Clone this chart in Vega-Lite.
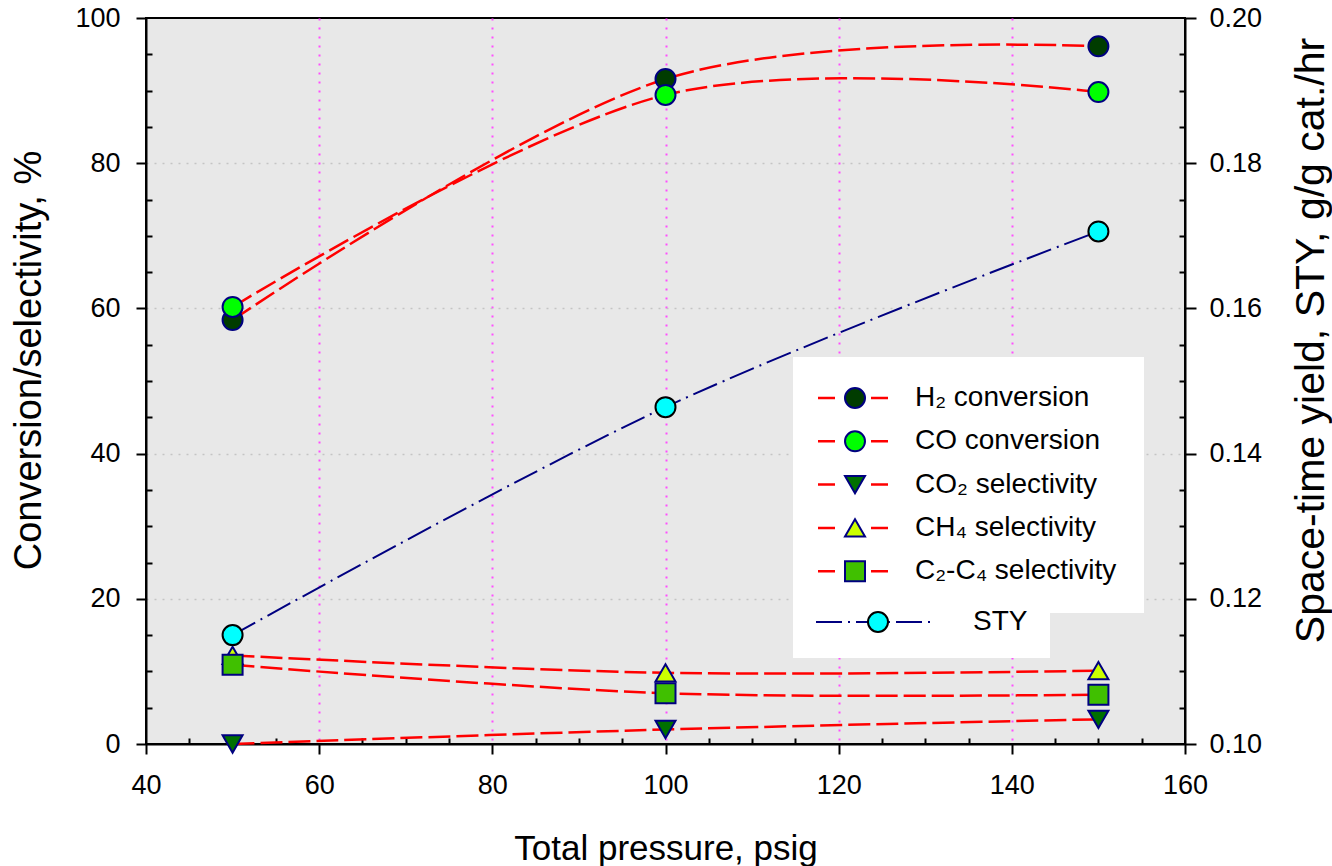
{
  "$schema": "https://vega.github.io/schema/vega-lite/v6.json",
  "width": 1039,
  "height": 726,
  "autosize": {"type": "none"},
  "padding": {"left": 146, "top": 18, "right": 147, "bottom": 122},
  "background": "white",
  "config": {
    "view": {"fill": "#e8e8e8", "stroke": "black", "strokeWidth": 2},
    "font": "Liberation Sans",
    "axis": {"labelFont": "Liberation Sans", "titleFont": "Liberation Sans", "labelColor": "black", "titleColor": "black", "domainColor": "black", "tickColor": "black", "domainWidth": 2, "tickWidth": 2, "titleFontWeight": "normal", "labelFlush": false, "labelOverlap": false},
    "legend": {"labelFont": "Liberation Sans", "labelColor": "black", "labelLimit": 0}
  },
  "datasets": {
    "conv": [
      {"pressure": 50, "value": 58.4, "series": "H₂ conversion"},
      {"pressure": 100, "value": 91.6, "series": "H₂ conversion"},
      {"pressure": 150, "value": 96.1, "series": "H₂ conversion"},
      {"pressure": 50, "value": 60.2, "series": "CO conversion"},
      {"pressure": 100, "value": 89.4, "series": "CO conversion"},
      {"pressure": 150, "value": 89.8, "series": "CO conversion"},
      {"pressure": 50, "value": 0.0, "series": "CO₂ selectivity"},
      {"pressure": 100, "value": 2.0, "series": "CO₂ selectivity"},
      {"pressure": 150, "value": 3.4, "series": "CO₂ selectivity"},
      {"pressure": 50, "value": 12.2, "series": "CH₄ selectivity"},
      {"pressure": 100, "value": 9.8, "series": "CH₄ selectivity"},
      {"pressure": 150, "value": 10.1, "series": "CH₄ selectivity"},
      {"pressure": 50, "value": 10.9, "series": "C₂-C₄ selectivity"},
      {"pressure": 100, "value": 7.0, "series": "C₂-C₄ selectivity"},
      {"pressure": 150, "value": 6.8, "series": "C₂-C₄ selectivity"}
    ],
    "sty": [
      {"pressure": 50, "sty": 0.115, "series": "STY"},
      {"pressure": 100, "sty": 0.1464, "series": "STY"},
      {"pressure": 150, "sty": 0.1706, "series": "STY"}
    ]
  },
  "layer": [
    {
      "data": {"name": "conv"},
      "layer": [
        {
          "mark": {"type": "line", "interpolate": "cardinal", "tension": 0, "strokeWidth": 2.5, "strokeDash": [22, 6]},
          "encoding": {
            "x": {"field": "pressure", "type": "quantitative", "scale": {"domain": [40, 160], "nice": false},
              "axis": {"orient": "bottom", "values": [40, 60, 80, 100, 120, 140, 160], "title": "Total pressure, psig", "titleFontSize": 35, "titlePadding": 33, "labelFontSize": 27, "tickSize": 10, "labelPadding": 18, "grid": true,
                "gridColor": {"condition": {"test": "datum.value == 40 || datum.value == 160", "value": "transparent"}, "value": "#ff4dff"}, "gridDash": [2, 7], "gridWidth": 2}},
            "y": {"field": "value", "type": "quantitative", "scale": {"domain": [0, 100], "nice": false},
              "axis": {"orient": "left", "values": [0, 20, 40, 60, 80, 100], "title": "Conversion/selectivity, %", "titleFontSize": 38, "titleY": 342, "titlePadding": 26, "labelFontSize": 27, "tickSize": 10, "labelPadding": 16, "grid": true,
                "gridColor": {"condition": {"test": "datum.value == 0 || datum.value == 100", "value": "transparent"}, "value": "#c4c4c4"}, "gridDash": [2, 6], "gridWidth": 1.5}},
            "color": {"field": "series", "type": "nominal",
              "sort": ["H₂ conversion", "CO conversion", "CO₂ selectivity", "CH₄ selectivity", "C₂-C₄ selectivity"],
              "scale": {"range": ["#ff0000", "#ff0000", "#ff0000", "#ff0000", "#ff0000"]},
              "legend": {"orient": "none", "legendX": 647, "legendY": 339, "title": null, "symbolType": "M -3.7 0 L -1.9 0 M 1.6 0 L 3.6 0", "symbolSize": 400, "symbolStrokeWidth": 2.5, "symbolDash": [17, 3], "symbolOffset": 21, "labelOffset": 46, "padding": 27, "rowPadding": 15.3, "labelFontSize": 28, "labelOpacity": 0, "fillColor": "white", "zindex": 1}}
          }
        },
        {
          "mark": {"type": "point", "filled": true, "size": 400, "strokeWidth": 2, "opacity": 1},
          "encoding": {
            "x": {"field": "pressure", "type": "quantitative",
              "axis": {"orient": "bottom", "values": [40, 60, 80, 100, 120, 140, 160], "title": "Total pressure, psig", "titleFontSize": 35, "titlePadding": 33, "labelFontSize": 27, "tickSize": 10, "labelPadding": 18, "grid": true,
                "gridColor": {"condition": {"test": "datum.value == 40 || datum.value == 160", "value": "transparent"}, "value": "#ff4dff"}, "gridDash": [2, 7], "gridWidth": 2}},
            "y": {"field": "value", "type": "quantitative",
              "axis": {"orient": "left", "values": [5, 10, 15, 25, 30, 35, 45, 50, 55, 65, 70, 75, 85, 90, 95], "tickSize": -6, "labels": false, "domain": false, "grid": false, "title": null}},
            "fill": {"field": "series", "type": "nominal",
              "scale": {"domain": ["H₂ conversion", "CO conversion", "CO₂ selectivity", "CH₄ selectivity", "C₂-C₄ selectivity"], "range": ["#003c00", "#00ff00", "#007000", "#ccff00", "#40c000"]},
              "legend": {"orient": "none", "legendX": 647, "legendY": 339, "title": null, "symbolSize": 400, "symbolStrokeWidth": 2, "symbolOffset": 21, "labelOffset": 46, "padding": 27, "rowPadding": 15.3, "labelFontSize": 28, "zindex": 1}},
            "stroke": {"field": "series", "type": "nominal",
              "scale": {"domain": ["H₂ conversion", "CO conversion", "CO₂ selectivity", "CH₄ selectivity", "C₂-C₄ selectivity"], "range": ["#000080", "#000080", "#000080", "#000080", "#000080"]},
              "legend": {"orient": "none", "legendX": 647, "legendY": 339, "title": null, "symbolSize": 400, "symbolStrokeWidth": 2, "symbolOffset": 21, "labelOffset": 46, "padding": 27, "rowPadding": 15.3, "labelFontSize": 28, "zindex": 1}},
            "shape": {"field": "series", "type": "nominal",
              "scale": {"domain": ["H₂ conversion", "CO conversion", "CO₂ selectivity", "CH₄ selectivity", "C₂-C₄ selectivity"], "range": ["circle", "circle", "triangle-down", "triangle-up", "square"]},
              "legend": {"orient": "none", "legendX": 647, "legendY": 339, "title": null, "symbolSize": 400, "symbolStrokeWidth": 2, "symbolOffset": 21, "labelOffset": 46, "padding": 27, "rowPadding": 15.3, "labelFontSize": 28, "zindex": 1}}
          }
        }
      ],
      "resolve": {"axis": {"y": "independent"}}
    },
    {
      "data": {"name": "sty"},
      "layer": [
        {
          "mark": {"type": "line", "interpolate": "cardinal", "tension": 0, "strokeWidth": 2, "strokeDash": [26, 6, 2, 6]},
          "encoding": {
            "x": {"field": "pressure", "type": "quantitative",
              "axis": {"orient": "bottom", "values": [45, 50, 55, 65, 70, 75, 85, 90, 95, 105, 110, 115, 125, 130, 135, 145, 150, 155], "tickSize": -6, "labels": false, "domain": false, "grid": false, "title": null}},
            "y": {"field": "sty", "type": "quantitative", "scale": {"domain": [0.1, 0.2], "nice": false},
              "axis": {"orient": "right", "values": [0.1, 0.12, 0.14, 0.16, 0.18, 0.2], "format": ".2f", "title": "Space-time yield, STY, g/g cat./hr", "titleFontSize": 41, "titleAngle": 270, "titleBaseline": "top", "titleY": 322, "titlePadding": 30, "labelFontSize": 27, "tickSize": 11, "labelPadding": 13, "grid": false}},
            "color": {"field": "series", "type": "nominal", "sort": ["STY"],
              "scale": {"range": ["#000080"]},
              "legend": {"orient": "none", "legendX": 647, "legendY": 568, "title": null, "symbolType": "M -6.2 0 L 5.8 0", "symbolSize": 400, "symbolStrokeWidth": 2, "symbolDash": [26, 6, 2, 6], "symbolOffset": 49, "labelOffset": 81, "padding": 22, "labelFontSize": 28, "labelOpacity": 0, "fillColor": "white", "zindex": 1}}
          }
        },
        {
          "mark": {"type": "point", "shape": "circle", "filled": true, "size": 400, "strokeWidth": 2, "opacity": 1},
          "encoding": {
            "x": {"field": "pressure", "type": "quantitative",
              "axis": {"orient": "bottom", "values": [45, 50, 55, 65, 70, 75, 85, 90, 95, 105, 110, 115, 125, 130, 135, 145, 150, 155], "tickSize": -6, "labels": false, "domain": false, "grid": false, "title": null}},
            "y": {"field": "sty", "type": "quantitative",
              "axis": {"orient": "right", "values": [0.105, 0.11, 0.115, 0.125, 0.13, 0.135, 0.145, 0.15, 0.155, 0.165, 0.17, 0.175, 0.185, 0.19, 0.195], "tickSize": -6, "labels": false, "domain": false, "grid": false, "title": null}},
            "fill": {"field": "series", "type": "nominal",
              "scale": {"domain": ["STY"], "range": ["#00ffff"]},
              "legend": {"orient": "none", "legendX": 647, "legendY": 568, "title": null, "symbolType": "circle", "symbolSize": 400, "symbolStrokeWidth": 2, "symbolOffset": 49, "labelOffset": 81, "padding": 22, "labelFontSize": 28, "zindex": 1}},
            "stroke": {"field": "series", "type": "nominal",
              "scale": {"domain": ["STY"], "range": ["black"]},
              "legend": {"orient": "none", "legendX": 647, "legendY": 568, "title": null, "symbolType": "circle", "symbolSize": 400, "symbolStrokeWidth": 2, "symbolOffset": 49, "labelOffset": 81, "padding": 22, "labelFontSize": 28, "zindex": 1}}
          }
        }
      ],
      "resolve": {"axis": {"y": "independent"}}
    }
  ],
  "resolve": {
    "scale": {"y": "independent", "color": "independent", "fill": "independent", "shape": "independent", "stroke": "independent"},
    "axis": {"x": "independent"}
  }
}
